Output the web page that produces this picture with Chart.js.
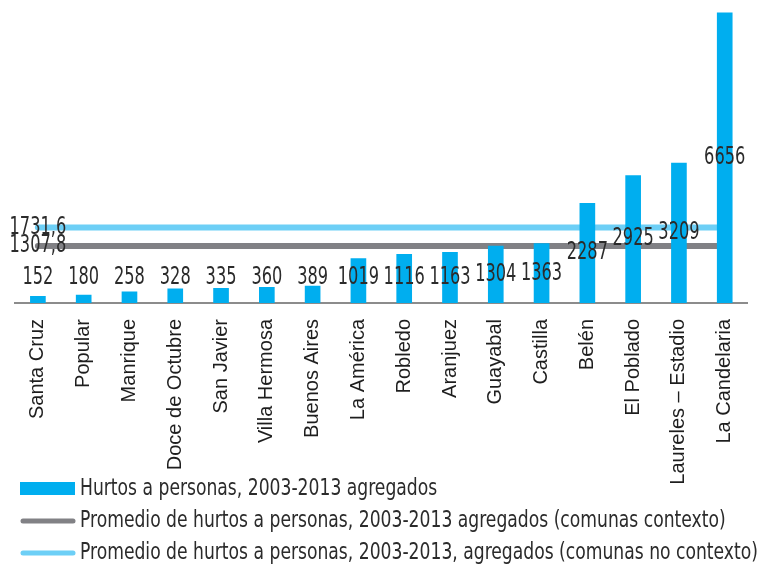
<!DOCTYPE html>
<html>
<head>
<meta charset="utf-8">
<script src="https://cdn.jsdelivr.net/npm/chart.js@4"></script>
<style>
  body { margin: 0; background: #fff; }
</style>
</head>
<body>
<canvas id="myChart" width="757" height="565"></canvas>
<script>
const comunas = ["Santa Cruz", "Popular", "Manrique", "Doce de Octubre", "San Javier", "Villa Hermosa",
    "Buenos Aires", "La América", "Robledo", "Aranjuez", "Guayabal", "Castilla", "Belén",
    "El Poblado", "Laureles – Estadio", "La Candelaria"];
const hurtos = [152, 180, 258, 328, 335, 360, 389, 1019, 1116, 1163, 1304, 1363, 2287, 2925, 3209, 6656];
const promedioContexto = [1307.8, 1307.8, 1307.8, 1307.8, 1307.8, 1307.8, 1307.8, 1307.8,
    1307.8, 1307.8, 1307.8, 1307.8, 1307.8, 1307.8, 1307.8, 1307.8];
const promedioNoContexto = [1731.6, 1731.6, 1731.6, 1731.6, 1731.6, 1731.6, 1731.6, 1731.6,
    1731.6, 1731.6, 1731.6, 1731.6, 1731.6, 1731.6, 1731.6, 1731.6];

const narrow = "'Liberation Sans Narrow', 'DejaVu Sans Condensed', sans-serif";
const textColor = '#2b2b2b';

function formatValue(v) {
    return String(v).replace('.', ',');
}

// texto angosto: la fuente original es condensada, se comprime a lo ancho
function narrowText(ctx, text, x, y, squeeze) {
    ctx.save();
    ctx.translate(x, y);
    ctx.scale(squeeze, 1);
    ctx.fillText(text, 0, 0);
    ctx.restore();
}

// etiquetas de valor: barras al centro (con minimo), lineas en el primer punto
const valueLabels = {
    id: 'valueLabels',
    afterDatasetsDraw(chart) {
        const ctx = chart.ctx;
        const yScale = chart.scales.y;
        ctx.save();
        ctx.font = '24px ' + narrow;
        ctx.fillStyle = textColor;
        ctx.textAlign = 'center';
        ctx.textBaseline = 'middle';
        chart.data.datasets.forEach((ds, i) => {
            const meta = chart.getDatasetMeta(i);
            if (ds.type === 'line') {
                const p = meta.data[0];
                narrowText(ctx, formatValue(ds.data[0]), p.x, p.y, 0.75);
            } else {
                meta.data.forEach((bar, j) => {
                    const v = ds.data[j];
                    const y = Math.min(yScale.getPixelForValue(v / 2), yScale.bottom - 25);
                    narrowText(ctx, formatValue(v), bar.x, y, 0.75);
                });
            }
        });
        ctx.restore();
    }
};

// leyenda abajo, una fila por serie
const bottomLegend = {
    id: 'bottomLegend',
    afterDraw(chart) {
        const ctx = chart.ctx;
        const n = chart.data.datasets.length;
        ctx.save();
        ctx.font = '23px ' + narrow;
        ctx.textAlign = 'left';
        ctx.textBaseline = 'middle';
        chart.data.datasets.forEach((ds, i) => {
            const y = chart.height - 12 - (n - 1 - i) * 32;
            if (ds.type === 'line') {
                ctx.strokeStyle = ds.borderColor;
                ctx.lineWidth = 5;
                ctx.lineCap = 'round';
                ctx.beginPath();
                ctx.moveTo(23, y);
                ctx.lineTo(73, y);
                ctx.stroke();
            } else {
                ctx.fillStyle = ds.backgroundColor;
                ctx.fillRect(20, y - 7, 55, 13);
            }
            ctx.fillStyle = textColor;
            narrowText(ctx, ds.label, 80, y, 0.83);
        });
        ctx.restore();
    }
};

const ctx = document.getElementById('myChart').getContext('2d');
const chart = new Chart(ctx, {
    type: 'bar',
    data: {
        labels: comunas,
        datasets: [{
                type: 'bar',
                label: 'Hurtos a personas, 2003-2013 agregados',
                data: hurtos,
                backgroundColor: '#00aeef',
                barThickness: 15,
                order: 0
            },
            {
                type: 'line',
                label: 'Promedio de hurtos a personas, 2003-2013 agregados (comunas contexto)',
                data: promedioContexto,
                borderColor: '#818185',
                borderWidth: 6,
                borderCapStyle: 'round',
                pointRadius: 0,
                fill: false,
                order: 1
            },
            {
                type: 'line',
                label: 'Promedio de hurtos a personas, 2003-2013, agregados (comunas no contexto)',
                data: promedioNoContexto,
                borderColor: '#6dcff6',
                borderWidth: 6,
                borderCapStyle: 'round',
                pointRadius: 0,
                fill: false,
                order: 2
            }
        ]
    },
    options: {
        responsive: false,
        animation: false,
        layout: {
            padding: { left: 12, right: 9, top: 11, bottom: 80 }
        },
        plugins: {
            tooltip: { enabled: false },
            legend: { display: false }
        },
        scales: {
            x: {
                grid: { display: false },
                border: { display: true, color: '#8c8c8c', width: 2 },
                ticks: {
                    autoSkip: false,
                    maxRotation: 90,
                    minRotation: 90,
                    padding: 8,
                    color: '#1e1e1e',
                    font: { family: "'Liberation Sans', Arial, sans-serif", size: 20 }
                },
                afterFit(scale) {
                    scale.height = 182;
                }
            },
            y: {
                min: 0,
                max: 6700,
                grid: { display: false },
                border: { display: false },
                ticks: { display: false },
                afterFit(scale) {
                    scale.width = 3;
                }
            }
        }
    },
    plugins: [valueLabels, bottomLegend]
});
</script>
</body>
</html>
